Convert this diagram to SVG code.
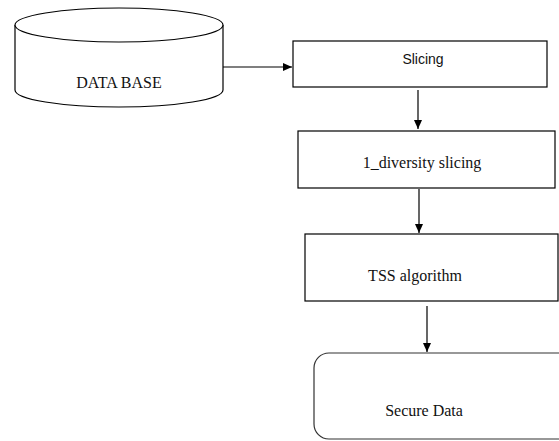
<svg xmlns="http://www.w3.org/2000/svg" width="559" height="441" viewBox="0 0 559 441">
<defs>
<style>
.shape{fill:#fff;stroke:#000;stroke-width:1.2}
.serif{font-family:"Liberation Serif","Times New Roman",serif;font-size:16px;fill:#111;text-anchor:middle}
.sans{font-family:"Liberation Sans",Arial,sans-serif;font-size:14px;fill:#111;text-anchor:middle}
.conn{stroke:#000;stroke-width:1.2;fill:none}
</style>
<marker id="ah" markerWidth="10" markerHeight="10" refX="9" refY="5" orient="auto" markerUnits="userSpaceOnUse">
<path d="M0,1 L9,5 L0,9 Z" fill="#000"/>
</marker>
</defs>
<rect width="559" height="441" fill="#fff"/>
<g id="database">
<path class="shape" d="M15,25 L15,90 A104,17 0 0 0 223,90 L223,25"/>
<ellipse class="shape" cx="119" cy="25" rx="104" ry="17"/>
<text class="serif" x="119" y="88">DATA BASE</text>
</g>
<g id="slicing">
<rect class="shape" x="293" y="41" width="254" height="46"/>
<text class="sans" x="423" y="64">Slicing</text>
</g>
<g id="diversity">
<rect class="shape" x="298" y="131" width="257" height="57"/>
<text class="serif" x="422" y="168">1_diversity slicing</text>
</g>
<g id="tss">
<rect class="shape" x="305" y="234" width="253" height="67"/>
<text class="serif" x="415" y="281">TSS algorithm</text>
</g>
<g id="secure">
<rect class="shape" x="314" y="353" width="260" height="86" rx="15" ry="15" style="stroke:#333"/>
<text class="serif" x="424" y="416">Secure Data</text>
</g>
<g id="connectors">
<line class="conn" x1="223" y1="67" x2="292" y2="67" marker-end="url(#ah)"/>
<line class="conn" x1="418" y1="90" x2="418" y2="129" marker-end="url(#ah)"/>
<line class="conn" x1="419" y1="189" x2="419" y2="233" marker-end="url(#ah)"/>
<line class="conn" x1="427" y1="306" x2="427" y2="352" marker-end="url(#ah)"/>
</g>
</svg>
